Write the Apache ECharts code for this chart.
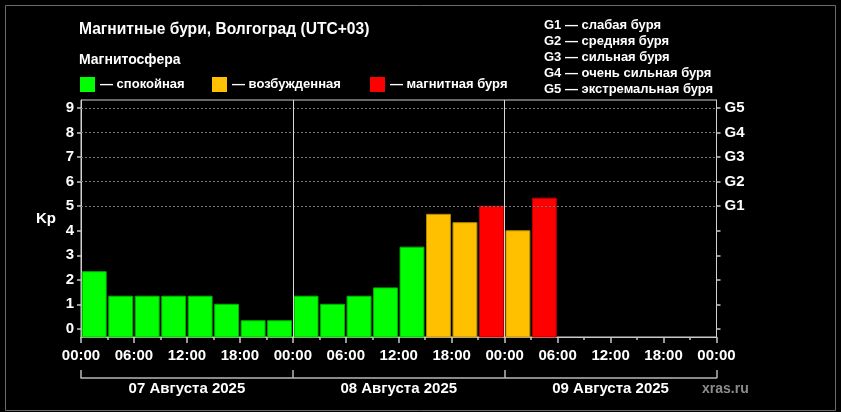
<!DOCTYPE html>
<html><head><meta charset="utf-8">
<script src="https://cdn.jsdelivr.net/npm/echarts@6/dist/echarts.min.js"></script>
<style>html,body{margin:0;padding:0;background:#000;} #c{width:841px;height:412px;}</style>
</head><body><div id="c"></div>
<script>
const dayLabels = ['07 Августа 2025', '08 Августа 2025', '09 Августа 2025'];
const kpValues = [2.33, 1.33, 1.33, 1.33, 1.33, 1.0, 0.33, 0.33,
                  1.33, 1.0, 1.33, 1.67, 3.33, 4.67, 4.33, 5.0,
                  4.0, 5.33];
const kpTicks = [0, 1, 2, 3, 4, 5, 6, 7, 8, 9];
const stormLevels = [5, 6, 7, 8, 9];
const stormLabels = ['G1', 'G2', 'G3', 'G4', 'G5'];
const stormLegend = ['G1 — слабая буря', 'G2 — средняя буря', 'G3 — сильная буря', 'G4 — очень сильная буря', 'G5 — экстремальная буря'];
const levelNames = ['спокойная', 'возбужденная', 'магнитная буря'];
const dayBoundaries = [24, 48];
const HOURS_PER_BAR = 3, TOTAL_HOURS = 72, TICK_HOURS = 6;

const levelColors = ['#00ff00', '#ffc000', '#ff0000'];
const levelEdges = ['#00b400', '#b48a00', '#b40000'];
const Y_MIN = -1 / 3, Y_MAX = 28 / 3;
const FONT = 'Liberation Sans, Arial, sans-serif';
const AXIS_GREY = '#c8c8c8';

function levelOf(v) { return v >= 5 ? 2 : (v >= 4 ? 1 : 0); }
const seriesData = [[], [], []];
kpValues.forEach((v, i) => { seriesData[levelOf(v)].push([i * HOURS_PER_BAR, (i + 1) * HOURS_PER_BAR, v]); });

function makeRender(idx) {
  return function (params, api) {
    const p0 = api.coord([api.value(0), Y_MIN]);
    const p1 = api.coord([api.value(1), api.value(2)]);
    const inset = 1.3;
    return {
      type: 'rect',
      shape: { x: p0[0] + inset, y: p1[1], width: p1[0] - p0[0] - 2 * inset, height: p0[1] - p1[1] },
      style: { fill: levelColors[idx], stroke: levelEdges[idx], lineWidth: 1 }
    };
  };
}
const pad = n => (n < 10 ? '0' : '') + n;

const chart = echarts.init(document.getElementById('c'));
const txt = (size, color) => ({ color: color || '#fff', fontWeight: 'bold', fontSize: size, fontFamily: FONT });
const tickAxis = (interval, len) => ({
  type: 'value', min: 0, max: TOTAL_HOURS, interval: interval, position: 'bottom', offset: 0,
  axisLine: { show: true, onZero: false, lineStyle: { color: AXIS_GREY } },
  axisTick: { show: true, length: len, lineStyle: { color: AXIS_GREY, width: 1.5 } },
  axisLabel: { show: false },
  splitLine: { show: false }
});

chart.setOption({
  backgroundColor: '#000',
  animation: false,
  title: [
    { text: 'Магнитные бури, Волгоград (UTC+03)', left: 79, top: 22, padding: 0, textStyle: txt(15.6) },
    { text: 'Магнитосфера', left: 79, top: 53, padding: 0, textStyle: txt(14) },
    { text: stormLegend.join('\n'), left: 544, top: 18, padding: 0, textStyle: Object.assign(txt(13), { lineHeight: 15.8 }) },
    { text: 'xras.ru', left: 702, top: 382, padding: 0, textStyle: txt(14, '#8c8c8c') }
  ],
  legend: levelNames.map((n, i) => ({
    data: [n], left: [80, 212, 370][i], top: 77, padding: 0,
    icon: 'rect', itemWidth: 15, itemHeight: 15, itemGap: 0,
    formatter: '— {name}', textStyle: txt(13), selectedMode: false
  })),
  graphic: [{
    type: 'rect', shape: { x: 5.5, y: 5.5, width: 830, height: 405 },
    style: { fill: 'none', stroke: '#6a6a6a', lineWidth: 1 }, silent: true
  }],
  grid: { left: 81, right: 124.5, top: 100, bottom: 75, show: true, borderColor: '#d0d0d0', borderWidth: 1 },
  xAxis: [
    {
      type: 'value', min: 0, max: TOTAL_HOURS, interval: TICK_HOURS,
      axisLine: { show: true, onZero: false, lineStyle: { color: AXIS_GREY } },
      axisTick: { show: false },
      splitLine: { show: false },
      axisLabel: Object.assign(txt(15), { margin: 11, formatter: v => pad(v % 24) + ':00' })
    },
    {
      type: 'category', data: dayLabels, position: 'bottom', offset: 41, boundaryGap: true,
      axisLine: { show: true, onZero: false, lineStyle: { color: '#b8b8b8', width: 1.5 } },
      axisTick: { show: true, inside: true, length: 8, lineStyle: { color: '#b8b8b8', width: 1.5 } },
      splitLine: { show: false },
      axisLabel: Object.assign(txt(15), { margin: 3 })
    },
    tickAxis(HOURS_PER_BAR, 3),
    tickAxis(TICK_HOURS, 6)
  ],
  yAxis: [
    {
      type: 'value', min: Y_MIN, max: Y_MAX, position: 'left',
      name: 'Kp', nameLocation: 'middle', nameGap: 25, nameRotate: 0, nameTextStyle: txt(15),
      axisLine: { show: true, onZero: false, lineStyle: { color: '#d0d0d0' } },
      axisTick: { show: true, length: 4, customValues: kpTicks, lineStyle: { color: AXIS_GREY, width: 1.5 } },
      axisLabel: Object.assign(txt(15), { margin: 7, customValues: kpTicks }),
      splitLine: { show: false }
    },
    {
      type: 'value', min: Y_MIN, max: Y_MAX, position: 'right',
      axisLine: { show: true, onZero: false, lineStyle: { color: '#d0d0d0' } },
      axisTick: { show: true, length: 4, customValues: kpTicks, lineStyle: { color: AXIS_GREY, width: 1.5 } },
      axisLabel: Object.assign(txt(15), { margin: 8, customValues: stormLevels,
        formatter: v => stormLabels[stormLevels.indexOf(Math.round(v))] || '' }),
      splitLine: { show: false }
    }
  ],
  series: [
    {
      type: 'line', data: [], z: 1, silent: true,
      markLine: {
        silent: true, symbol: 'none', label: { show: false }, animation: false,
        data: stormLevels.map(v => ({ yAxis: v, lineStyle: { type: [2, 2], color: '#7a7a7a', width: 1 } }))
          .concat(dayBoundaries.map(h => ({ xAxis: h, lineStyle: { type: 'solid', color: '#d8d8d8', width: 1 } })))
      }
    }
  ].concat(levelNames.map((n, i) => ({
    name: n, type: 'custom', z: 3,
    itemStyle: { color: levelColors[i] },
    encode: { x: [0, 1], y: 2 },
    renderItem: makeRender(i),
    data: seriesData[i]
  })))
});
</script>
</body></html>
